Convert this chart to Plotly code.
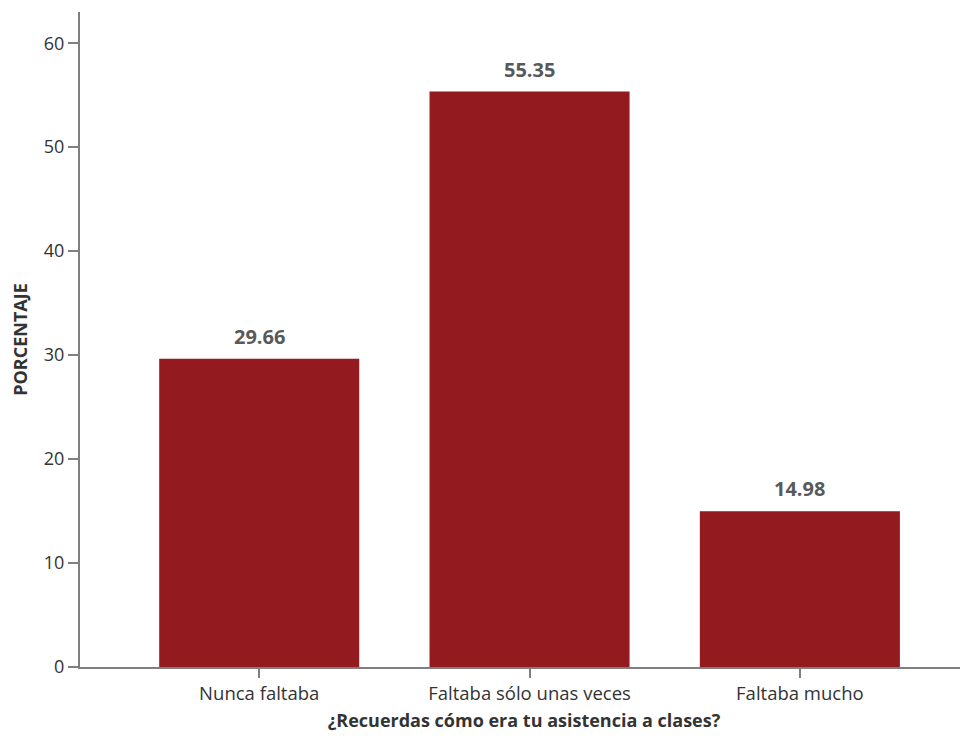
import plotly.graph_objects as go

categories = ["Nunca faltaba", "Faltaba sólo unas veces", "Faltaba mucho"]
values = [29.66, 55.35, 14.98]
labels = ["29.66", "55.35", "14.98"]

fig = go.Figure()
fig.add_trace(go.Bar(
    x=categories, y=values,
    marker=dict(color="#931a1e", line=dict(width=0)),
    width=0.74,
))
for c, v, t in zip(categories, values, labels):
    fig.add_annotation(x=c, y=v, text="<b>%s</b>" % t, showarrow=False,
                       yanchor="bottom", yshift=7,
                       font=dict(family="Open Sans", size=20, color="#595959"))

# page body has an 8px margin, so the figure is sized/offset to compensate
fig.update_layout(
    width=960, height=731,
    margin=dict(l=72, r=0, t=4, b=72),
    plot_bgcolor="white", paper_bgcolor="white",
    showlegend=False,
    font=dict(family="Open Sans", size=18, color="#333333"),
    xaxis=dict(
        range=[-0.663, 2.622],
        automargin=False,
        showline=True, linecolor="#7f7f7f", linewidth=2,
        ticks="outside", ticklen=9, tickwidth=2, tickcolor="#7f7f7f",
        tickfont=dict(size=18.5, color="#333333"),
        title=dict(text="<b>¿Recuerdas cómo era tu asistencia a clases?</b>",
                   font=dict(size=18, color="#333333"), standoff=10),
        showgrid=False, zeroline=False,
    ),
    yaxis=dict(
        range=[0, 63],
        automargin=False,
        tickvals=[0, 10, 20, 30, 40, 50, 60],
        showline=True, linecolor="#7f7f7f", linewidth=2,
        ticks="outside", ticklen=10, tickwidth=2, tickcolor="#7f7f7f",
        tickfont=dict(size=18, color="#333333"),
        title=dict(text="<b>PORCENTAJE</b>", font=dict(size=18, color="#333333"), standoff=12),
        showgrid=False, zeroline=False,
    ),
)
fig.write_html("out.html")
